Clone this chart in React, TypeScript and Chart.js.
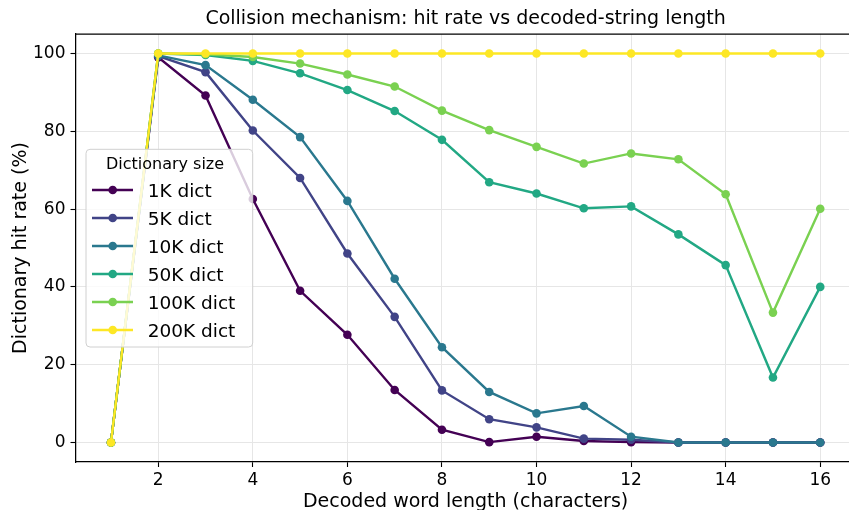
import React, { useEffect, useRef } from 'react';
import { Chart, registerables } from 'chart.js';

Chart.register(...registerables);

const lengths = [1, 2, 3, 4, 5, 6, 7, 8, 9, 10, 11, 12, 13, 14, 15, 16];
const dict1K = [0, 99.0, 89.2, 62.6, 39.0, 27.7, 13.5, 3.3, 0.1, 1.5, 0.4, 0.1, 0, 0, 0, 0];
const dict5K = [0, 99.3, 95.2, 80.2, 68.0, 48.6, 32.3, 13.4, 6.0, 3.9, 1.0, 0.7, 0, 0, 0, 0];
const dict10K = [0, 99.5, 97.0, 88.1, 78.5, 62.1, 42.1, 24.5, 13.0, 7.5, 9.4, 1.5, 0, 0, 0, 0];
const dict50K = [0, 100, 99.6, 98.1, 94.9, 90.6, 85.2, 77.8, 66.9, 64.0, 60.2, 60.7, 53.5, 45.6, 16.7, 40.0];
const dict100K = [0, 100, 99.8, 99.1, 97.4, 94.6, 91.5, 85.3, 80.3, 76.0, 71.7, 74.3, 72.8, 63.8, 33.4, 60.1];
const dict200K = [0, 100, 100, 100, 100, 100, 100, 100, 100, 100, 100, 100, 100, 100, 100, 100];

const seriesValues = [dict1K, dict5K, dict10K, dict50K, dict100K, dict200K];
const seriesLabels = ['1K dict', '5K dict', '10K dict', '50K dict', '100K dict', '200K dict'];
const seriesColors = ['#440154', '#414487', '#2a788e', '#22a884', '#7ad151', '#fde725'];
const xTicks = [2, 4, 6, 8, 10, 12, 14, 16];
const yTicks = [0, 20, 40, 60, 80, 100];

const chartTitle = 'Collision mechanism: hit rate vs decoded-string length';
const xTitle = 'Decoded word length (characters)';
const yTitle = 'Dictionary hit rate (%)';
const legendTitle = 'Dictionary size';

const FONT = "'DejaVu Sans', sans-serif";

const frameAndLegend = {
  id: 'frameAndLegend',
  afterDatasetsDraw(chart: any) {
    const { ctx, chartArea } = chart;
    ctx.save();
    // top and right spines
    ctx.strokeStyle = '#000';
    ctx.lineWidth = 1.25;
    ctx.beginPath();
    ctx.moveTo(chartArea.left, chartArea.top);
    ctx.lineTo(chartArea.right, chartArea.top);
    ctx.lineTo(chartArea.right, chartArea.bottom);
    ctx.stroke();

    // legend box
    const bx = chartArea.left + 10.5;
    const by = chartArea.top + 115.3;
    const bw = 166.7;
    const bh = 197.7;
    const r = 4;
    ctx.beginPath();
    ctx.moveTo(bx + r, by);
    ctx.lineTo(bx + bw - r, by);
    ctx.arcTo(bx + bw, by, bx + bw, by + r, r);
    ctx.lineTo(bx + bw, by + bh - r);
    ctx.arcTo(bx + bw, by + bh, bx + bw - r, by + bh, r);
    ctx.lineTo(bx + r, by + bh);
    ctx.arcTo(bx, by + bh, bx, by + bh - r, r);
    ctx.lineTo(bx, by + r);
    ctx.arcTo(bx, by, bx + r, by, r);
    ctx.closePath();
    ctx.fillStyle = 'rgba(255,255,255,0.8)';
    ctx.fill();
    ctx.strokeStyle = '#d0d0d0';
    ctx.lineWidth = 1;
    ctx.stroke();

    ctx.fillStyle = '#000';
    ctx.textBaseline = 'alphabetic';
    ctx.textAlign = 'center';
    ctx.font = `16px ${FONT}`;
    ctx.fillText(legendTitle, bx + 79, by + 19.3);

    ctx.textAlign = 'left';
    ctx.font = `18.5px ${FONT}`;
    for (let i = 0; i < seriesLabels.length; i++) {
      const cy = by + 40.7 + 28 * i;
      ctx.strokeStyle = seriesColors[i];
      ctx.lineWidth = 2.4;
      ctx.beginPath();
      ctx.moveTo(bx + 6, cy);
      ctx.lineTo(bx + 47, cy);
      ctx.stroke();
      ctx.fillStyle = seriesColors[i];
      ctx.beginPath();
      ctx.arc(bx + 26.7, cy, 4.3, 0, Math.PI * 2);
      ctx.fill();
      ctx.fillStyle = '#000';
      ctx.fillText(seriesLabels[i], bx + 61.7, cy + 6.7);
    }
    ctx.restore();
  },
};

export default function App() {
  const canvasRef = useRef<HTMLCanvasElement | null>(null);

  useEffect(() => {
    const canvas = canvasRef.current;
    if (!canvas) return;
    const datasets = seriesValues.map((vals, i) => ({
      label: seriesLabels[i],
      data: lengths.map((x, j) => ({ x, y: vals[j] })),
      borderColor: seriesColors[i],
      backgroundColor: seriesColors[i],
      pointBackgroundColor: seriesColors[i],
      pointBorderWidth: 0,
      pointRadius: 4.3,
      borderWidth: 2.4,
      fill: false,
      tension: 0,
      order: seriesValues.length - i,
    }));

    const chart = new Chart(canvas, {
      type: 'line',
      data: { datasets },
      plugins: [frameAndLegend],
      options: {
        animation: false,
        responsive: false,
        devicePixelRatio: 1,
        layout: { padding: { left: 0, top: 0, bottom: 0, right: 4 } },
        plugins: {
          legend: { display: false },
          tooltip: { enabled: false },
          title: {
            display: true,
            fullSize: false,
            text: chartTitle,
            color: '#000',
            font: { family: FONT, size: 19, weight: 'normal', lineHeight: 1.2 },
            padding: { top: 7.5, bottom: 3.7 },
          },
        },
        scales: {
          x: {
            type: 'linear',
            min: 0.25,
            max: 16.75,
            afterFit: (s: any) => { s.height = 48; },
            afterBuildTicks: (s: any) => { s.ticks = xTicks.map((v) => ({ value: v })); },
            grid: { color: '#e6e6e6', lineWidth: 1, tickColor: '#000', tickLength: 5, tickWidth: 1.1 },
            border: { color: '#000', width: 1.25 },
            ticks: { color: '#000', font: { family: FONT, size: 17 }, padding: 3, maxRotation: 0 },
            title: {
              display: true,
              text: xTitle,
              color: '#000',
              font: { family: FONT, size: 19, lineHeight: 1 },
              padding: { top: 0, bottom: -2 },
            },
          },
          y: {
            type: 'linear',
            min: -5,
            max: 105,
            afterFit: (s: any) => { s.width = 75.5; },
            afterBuildTicks: (s: any) => { s.ticks = yTicks.map((v) => ({ value: v })); },
            grid: { color: '#e6e6e6', lineWidth: 1, tickColor: '#000', tickLength: 5, tickWidth: 1.1 },
            border: { color: '#000', width: 1.25 },
            ticks: { color: '#000', font: { family: FONT, size: 17 }, padding: 5 },
            title: {
              display: true,
              text: yTitle,
              color: '#000',
              font: { family: FONT, size: 19, lineHeight: 1 },
              padding: { top: 12, bottom: 0 },
            },
          },
        },
      },
    });
    return () => chart.destroy();
  }, []);

  return (
    <div style={{ position: 'fixed', left: 0, top: 0, width: 849, height: 510, background: '#fff', overflow: 'hidden' }}>
      <canvas ref={canvasRef} width={860} height={510} style={{ width: 860, height: 510, display: 'block' }} />
    </div>
  );
}
